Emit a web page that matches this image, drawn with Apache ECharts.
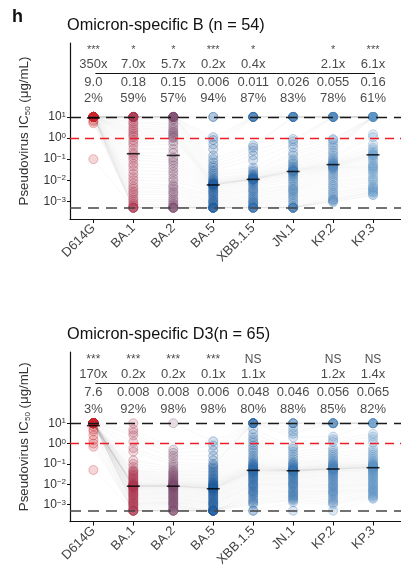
<!DOCTYPE html>
<html><head><meta charset="utf-8">
<script src="https://cdn.jsdelivr.net/npm/echarts@6/dist/echarts.min.js"></script>
<style>html,body{margin:0;padding:0;background:#fff}#c{width:401px;height:569px}</style>
</head><body><div id="c"></div>
<script>
// ---------------- data ----------------
const categories = ['D614G','BA.1','BA.2','BA.5','XBB.1.5','JN.1','KP.2','KP.3'];
const yTickExponents = [-3,-2,-1,0,1];
const upperLimit = 10, lowerLimit = 0.0005, threshold = 1;

// Omicron-specific B (n = 54): IC50 (µg/mL) per antibody
const B_D614G = [10,10,10,10,10,10,10,10,10,10,10,10,10,10,10,10,10,10,10,10,10,10,10,10,10,10,10,10,10,10,10,10,10,10,10,10,10,10,10,10,10,10,10,10,10,10,10,10,10,10,7,6,5,0.1];
const B_BA1 = [10,10,10,10,10,10,10,10,10,10,10,10,8,6,5,4,3,2.5,2,1.6,1.3,1.1,0.8,0.6,0.45,0.3,0.2,0.16,0.12,0.09,0.06,0.045,0.03,0.02,0.014,0.01,0.007,0.005,0.004,0.003,0.0025,0.002,0.0015,0.0012,0.001,0.0008,0.0007,0.0006,0.0005,0.0005,0.0005,0.0005,0.0005,0.0005];
const B_BA2 = [10,10,10,10,10,10,10,10,10,10,10,8,7,5,4,3,2.5,2,1.8,1.5,1.3,1.1,1.0,0.7,0.5,0.3,0.2,0.12,0.09,0.07,0.05,0.035,0.025,0.018,0.012,0.009,0.006,0.005,0.004,0.003,0.0025,0.002,0.0015,0.0012,0.001,0.0008,0.0007,0.0006,0.0005,0.0005,0.0005,0.0005,0.0005,0.0005];
const B_BA5 = [10,10,1.1,0.8,0.5,0.3,0.15,0.1,0.07,0.05,0.04,0.03,0.025,0.02,0.016,0.013,0.011,0.01,0.009,0.008,0.0075,0.007,0.0068,0.0065,0.0062,0.0061,0.006,0.006,0.0055,0.005,0.0045,0.004,0.0035,0.003,0.0027,0.0024,0.002,0.0018,0.0015,0.0013,0.0011,0.001,0.0009,0.0008,0.0007,0.0006,0.0005,0.0005,0.0005,0.0005,0.0005,0.0005,0.0005,0.0005];
const B_XBB15 = [10,10,10,10,10,10,10,0.45,0.35,0.25,0.15,0.09,0.04,0.03,0.025,0.02,0.018,0.016,0.015,0.014,0.013,0.0125,0.012,0.0118,0.0115,0.0112,0.011,0.011,0.0105,0.01,0.009,0.008,0.007,0.006,0.005,0.004,0.0035,0.003,0.0025,0.002,0.0017,0.0014,0.0012,0.001,0.0009,0.0008,0.0007,0.0006,0.0005,0.0005,0.0005,0.0005,0.0005,0.0005];
const B_JN1 = [10,10,10,10,10,10,10,10,10,0.9,0.7,0.5,0.35,0.2,0.15,0.1,0.08,0.065,0.055,0.045,0.04,0.035,0.032,0.03,0.028,0.027,0.026,0.025,0.022,0.02,0.017,0.015,0.012,0.01,0.008,0.006,0.005,0.004,0.0035,0.003,0.0025,0.002,0.0016,0.0013,0.001,0.0008,0.0006,0.0005,0.0005,0.0005,0.0005,0.0005,0.0005,0.0005];
const B_KP2 = [10,10,10,10,10,10,10,10,10,10,10,10,0.9,0.8,0.6,0.45,0.35,0.25,0.2,0.15,0.12,0.1,0.085,0.075,0.068,0.062,0.058,0.053,0.05,0.048,0.045,0.042,0.04,0.038,0.035,0.03,0.025,0.02,0.016,0.013,0.01,0.008,0.006,0.005,0.004,0.003,0.0025,0.002,0.0016,0.0013,0.0012,0.0011,0.001,0.0009];
const B_KP3 = [10,10,10,10,10,10,10,10,10,10,10,10,10,10,10,10,10,10,10,1.5,1.1,0.5,0.35,0.28,0.22,0.19,0.17,0.155,0.14,0.12,0.1,0.08,0.06,0.05,0.045,0.04,0.035,0.03,0.025,0.02,0.015,0.012,0.01,0.008,0.006,0.005,0.0045,0.004,0.0035,0.003,0.0028,0.0025,0.002,0.002];
const B_stars = ['***','*','*','***','*','','*','***'];
const B_folds = ['350x','7.0x','5.7x','0.2x','0.4x','','2.1x','6.1x'];
const B_medians = ['9.0','0.18','0.15','0.006','0.011','0.026','0.055','0.16'];
const B_pcts = ['2%','59%','57%','94%','87%','83%','78%','61%'];

// Omicron-specific D3 (n = 65)
const D_D614G = [10,10,10,10,10,10,10,10,10,10,10,10,10,10,10,10,10,10,10,10,10,10,10,10,10,10,10,10,10,10,10,10,10,10,10,10,10,10,10,10,10,10,10,10,10,10,10,10,10,10,10,10,10,10,10,10,10,7,5,4,2.5,1.5,1.0,0.7,0.05];
const D_BA1 = [10,5,3.5,2.5,1.2,0.6,0.4,0.15,0.1,0.07,0.05,0.045,0.04,0.035,0.03,0.027,0.024,0.021,0.019,0.017,0.015,0.013,0.012,0.011,0.01,0.0095,0.009,0.0088,0.0085,0.0082,0.0081,0.008,0.008,0.0078,0.0075,0.007,0.0065,0.006,0.0055,0.005,0.0045,0.004,0.0036,0.0032,0.003,0.0027,0.0024,0.0021,0.0019,0.0017,0.0015,0.0013,0.0012,0.0011,0.001,0.0009,0.0008,0.0007,0.0006,0.0005,0.0005,0.0005,0.0005,0.0005,0.0005];
const D_BA2 = [10,0.5,0.35,0.25,0.18,0.12,0.09,0.07,0.055,0.045,0.04,0.035,0.03,0.027,0.024,0.021,0.019,0.017,0.015,0.014,0.013,0.012,0.011,0.0105,0.01,0.0095,0.009,0.0088,0.0086,0.0084,0.0082,0.0081,0.008,0.0078,0.0075,0.007,0.0065,0.006,0.0055,0.005,0.0045,0.004,0.0037,0.0034,0.003,0.0027,0.0024,0.0022,0.002,0.0018,0.0016,0.0014,0.0013,0.0012,0.0011,0.001,0.0009,0.0008,0.0007,0.0006,0.0005,0.0005,0.0005,0.0005,0.0005];
const D_BA5 = [1.3,0.8,0.45,0.25,0.15,0.1,0.085,0.07,0.06,0.05,0.042,0.036,0.03,0.026,0.022,0.019,0.017,0.015,0.013,0.012,0.011,0.01,0.0095,0.009,0.0085,0.008,0.0075,0.007,0.0068,0.0065,0.0063,0.0061,0.006,0.0058,0.0055,0.005,0.0046,0.0042,0.0038,0.0034,0.003,0.0027,0.0024,0.0021,0.0019,0.0017,0.0015,0.0013,0.0012,0.0011,0.001,0.0009,0.0008,0.0007,0.0006,0.0005,0.0005,0.0005,0.0005,0.0005,0.0005,0.0005,0.0005,0.0005,0.0005];
const D_XBB15 = [10,10,10,10,10,10,10,10,5,3,2,1.5,1.1,0.8,0.6,0.45,0.35,0.25,0.2,0.16,0.13,0.11,0.1,0.09,0.08,0.075,0.07,0.065,0.06,0.056,0.053,0.05,0.048,0.045,0.042,0.039,0.036,0.033,0.03,0.027,0.024,0.021,0.019,0.017,0.015,0.013,0.011,0.01,0.009,0.008,0.007,0.006,0.005,0.0045,0.004,0.0035,0.003,0.0025,0.002,0.0017,0.0014,0.0012,0.001,0.0005,0.0005];
const D_JN1 = [10,10,10,10,6,4,3,2,0.7,0.55,0.4,0.3,0.22,0.17,0.13,0.11,0.1,0.09,0.08,0.072,0.066,0.062,0.058,0.055,0.052,0.05,0.049,0.048,0.047,0.0465,0.0462,0.046,0.046,0.045,0.043,0.04,0.037,0.034,0.031,0.028,0.025,0.022,0.02,0.018,0.016,0.014,0.012,0.011,0.01,0.009,0.008,0.007,0.006,0.005,0.0045,0.004,0.0035,0.003,0.0027,0.0024,0.0021,0.0018,0.0016,0.0013,0.0005];
const D_KP2 = [10,10,10,10,10,10,10,2.2,1.6,1.2,0.6,0.45,0.35,0.28,0.22,0.18,0.15,0.13,0.11,0.1,0.09,0.085,0.08,0.075,0.07,0.066,0.063,0.06,0.058,0.057,0.0565,0.056,0.056,0.054,0.051,0.048,0.045,0.042,0.038,0.034,0.03,0.027,0.024,0.021,0.018,0.016,0.014,0.012,0.01,0.009,0.008,0.007,0.006,0.005,0.0045,0.004,0.0035,0.003,0.0025,0.002,0.0017,0.0014,0.0012,0.001,0.0005];
const D_KP3 = [10,10,10,10,10,10,10,10,3,2.2,1.6,1.1,0.6,0.45,0.35,0.28,0.22,0.18,0.15,0.13,0.115,0.1,0.095,0.09,0.085,0.08,0.077,0.074,0.071,0.069,0.067,0.066,0.065,0.062,0.058,0.054,0.05,0.046,0.042,0.038,0.034,0.03,0.027,0.024,0.021,0.019,0.017,0.015,0.013,0.011,0.01,0.009,0.008,0.007,0.006,0.0055,0.005,0.0045,0.004,0.0035,0.003,0.0027,0.0024,0.0021,0.0019];
const D_stars = ['***','***','***','***','NS','','NS','NS'];
const D_folds = ['170x','0.2x','0.2x','0.1x','1.1x','','1.2x','1.4x'];
const D_medians = ['7.6','0.008','0.008','0.006','0.048','0.046','0.056','0.065'];
const D_pcts = ['3%','92%','98%','98%','80%','88%','85%','82%'];

// ---------------- layout / style ----------------
const FONT = 'Liberation Sans, Arial, Helvetica, sans-serif';
const palette = ['#c8282e','#ab3850','#7b4a6e','#1e5a9c','#2c69a8','#3a75b0','#4a83ba','#5a92c4'];
const panels = [
  {title:'Omicron-specific B (n = 54)', cols:[B_D614G,B_BA1,B_BA2,B_BA5,B_XBB15,B_JN1,B_KP2,B_KP3],
   stars:B_stars, folds:B_folds, medians:B_medians, pcts:B_pcts,
   gridTop:43, gridHeight:176, titleTop:18, rows:{stars:4.16, folds:3.48, line:3.06, vals:2.61, pct:1.86}},
  {title:'Omicron-specific D3(n = 65)', cols:[D_D614G,D_BA1,D_BA2,D_BA5,D_XBB15,D_JN1,D_KP2,D_KP3],
   stars:D_stars, folds:D_folds, medians:D_medians, pcts:D_pcts,
   gridTop:352, gridHeight:177, titleTop:327, rows:{stars:4.10, folds:3.39, line:2.94, vals:2.50, pct:1.68}}
];
const L = Math.log10;
function rgba(hex,a){const n=parseInt(hex.slice(1),16);return `rgba(${n>>16},${(n>>8)&255},${n&255},${a})`;}
const supMap = e => (e<0 ? '\u2212'+(-e) : ''+e);

const grid=[], xAxis=[], yAxis=[], series=[];
const title=[{text:'h', left:12, top:8, padding:0, textStyle:{fontSize:18, fontWeight:'bold', color:'#111', fontFamily:FONT}}];

panels.forEach((p,pi)=>{
  title.push({text:p.title, left:67, top:p.titleTop, padding:0, textStyle:{fontSize:16.3, fontWeight:'normal', color:'#111', fontFamily:FONT}});
  grid.push({left:70, right:0, top:p.gridTop, height:p.gridHeight});
  xAxis.push({type:'value', gridIndex:pi, min:-0.585, max:7.7,
    axisLine:{show:true, onZero:false, lineStyle:{color:'#111', width:1.2}},
    axisTick:{show:true, customValues:[0,1,2,3,4,5,6,7], length:4, lineStyle:{color:'#111', width:1}},
    axisLabel:{customValues:[0,1,2,3,4,5,6,7], formatter:v=>categories[Math.round(v)], rotate:45, fontSize:13, color:'#444', margin:7, fontFamily:FONT},
    splitLine:{show:false}});
  yAxis.push({type:'value', gridIndex:pi, min:-3.835, max:4.5,
    axisLine:{show:true, onZero:false, lineStyle:{color:'#111', width:1.2}},
    axisTick:{show:true, customValues:yTickExponents, length:3, lineStyle:{color:'#111', width:1}},
    axisLabel:{customValues:yTickExponents, formatter:v=>'10{s|'+supMap(v)+'}', fontSize:12, color:'#333', margin:4, fontFamily:FONT,
      rich:{s:{fontSize:8, verticalAlign:'top', lineHeight:8, color:'#333', fontFamily:FONT, padding:[0,0,6,0]}}},
    splitLine:{show:false},
    name:'Pseudovirus IC{b|50} (\u03bcg/mL)', nameLocation:'middle', nameGap:38,
    nameTextStyle:{fontSize:13.3, color:'#333', fontFamily:FONT, rich:{b:{fontSize:8, color:'#333', fontFamily:FONT, padding:[7,0,0,0]}}}});

  const n = p.cols[0].length;
  // connecting lines per antibody
  for(let i=0;i<n;i++){
    series.push({type:'line', xAxisIndex:pi, yAxisIndex:pi, silent:true, symbol:'none', z:1,
      lineStyle:{color:'rgba(150,150,150,0.11)', width:0.6},
      data:p.cols.map((col,j)=>[j, L(col[i])])});
  }
  // reference dashed lines + header rule
  series.push({type:'scatter', xAxisIndex:pi, yAxisIndex:pi, data:[], z:2,
    markLine:{silent:true, symbol:'none', label:{show:false}, animation:false,
      data:[
        {yAxis:L(upperLimit), lineStyle:{color:'#1a1a1a', width:1.3, type:[11,7]}},
        {yAxis:L(threshold), lineStyle:{color:'#ee1c25', width:1.3, type:[9,6]}},
        {yAxis:L(lowerLimit), lineStyle:{color:'#444', width:1.6, type:[11,7]}},
        [{coord:[0.05,p.rows.line], lineStyle:{color:'#111', width:1.1, type:'solid'}},{coord:[7.05,p.rows.line]}]
      ]}});
  // points
  p.cols.forEach((col,j)=>{
    series.push({type:'scatter', xAxisIndex:pi, yAxisIndex:pi, z:3, symbolSize:9,
      itemStyle:{color:rgba(palette[j],0.23), borderColor:rgba(palette[j],0.48), borderWidth:0.8},
      data:col.map(v=>[j, L(v)])});
  });
  // median bars
  series.push({type:'scatter', xAxisIndex:pi, yAxisIndex:pi, z:5, symbol:'rect', symbolSize:[13,1.6],
    itemStyle:{color:'#000'}, data:p.medians.map((m,j)=>[j, L(parseFloat(m))])});
  // header text rows
  const rowSeries = (arr,y,fs)=>({type:'scatter', xAxisIndex:pi, yAxisIndex:pi, z:6, symbolSize:1,
    itemStyle:{color:'rgba(0,0,0,0)'},
    label:{show:true, position:'inside', formatter:'{b}', fontSize:fs, color:'#1a1a1a', fontFamily:FONT},
    data:arr.map((t,j)=>({name:t, value:[j,y]})).filter(d=>d.name!=='')});
  series.push(rowSeries(p.stars, p.rows.stars, pi===0?11:12));
  series.push(rowSeries(p.folds, p.rows.folds, 13));
  series.push(rowSeries(p.medians, p.rows.vals, 13));
  series.push(rowSeries(p.pcts, p.rows.pct, 13));
});

const chart = echarts.init(document.getElementById('c'), null, {renderer:'canvas'});
chart.setOption({animation:false, backgroundColor:'#fff', title, grid, xAxis, yAxis, series});
</script>
</body></html>
